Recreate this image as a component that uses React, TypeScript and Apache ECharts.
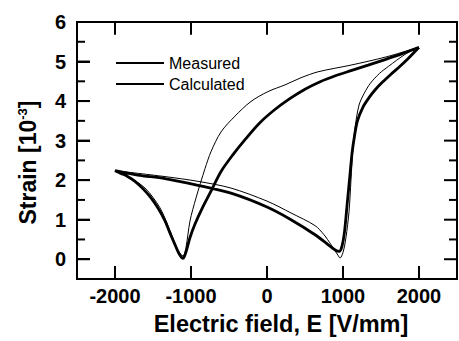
import React, { useEffect, useRef } from "react";
import * as echarts from "echarts";

// Measured loop (E in V/mm, strain in 10^-3)
const measuredE = [2000, 1780, 1553, 1330, 1105, 900, 700, 500, 300, 100, -100, -300, -450, -605, -737, -850, -950, -1013, -1060, -1090, -1105,
  -1160, -1211, -1280, -1342, -1430, -1526, -1630, -1737, -1840, -1921, -2000,
  -1700, -1342, -908, -474, 0, 316, 632, 803, 908, 950, 985, 1020, 1055, 1090, 1120, 1150, 1190, 1263, 1340, 1421, 1520, 1632, 1750, 1855, 2000];
const measuredS = [5.36, 5.2, 5.05, 4.91, 4.77, 4.64, 4.49, 4.3, 4.06, 3.78, 3.44, 3.0, 2.64, 2.22, 1.72, 1.3, 0.88, 0.55, 0.22, 0.06, 0.02,
  0.15, 0.37, 0.68, 0.97, 1.28, 1.55, 1.78, 1.97, 2.1, 2.17, 2.24,
  2.13, 2.04, 1.87, 1.67, 1.32, 1.0, 0.62, 0.37, 0.22, 0.2, 0.32, 0.7, 1.4, 2.1, 2.7, 3.1, 3.5, 3.85, 4.08, 4.28, 4.48, 4.68, 4.88, 5.07, 5.36];

// Calculated loop
const calculatedE = [2000, 1553, 1105, 671, 447, 237, 13, -211, -421, -605, -737, -816, -934, -1013, -1066, -1105,
  -1171, -1276, -1408, -1605, -1829, -2000,
  -1342, -908, -474, 0, 316, 632, 750, 842, 934, 961, 1000, 1039, 1079, 1105, 1130, 1160, 1211, 1280, 1360, 1480, 1600, 1816, 2000];
const calculatedS = [5.36, 5.11, 4.91, 4.74, 4.59, 4.41, 4.24, 3.99, 3.62, 3.22, 2.72, 2.29, 1.55, 0.97, 0.3, 0.08,
  0.22, 0.72, 1.3, 1.8, 2.09, 2.24,
  2.09, 1.97, 1.8, 1.47, 1.17, 0.85, 0.62, 0.37, 0.1, 0.03, 0.17, 0.55, 1.2, 2.0, 2.8, 3.35, 3.9, 4.2, 4.45, 4.7, 4.88, 5.18, 5.36];

const xTicks = [-2000, -1000, 0, 1000, 2000];
const yMajorTicks = [0, 1, 2, 3, 4, 5, 6];
const yMinorTicks = [0.5, 1.5, 2.5, 3.5, 4.5, 5.5];

const X_MIN = -2500;
const X_MAX = 2500;
const Y_MIN = -0.5;
const Y_MAX = 6;

const FONT = "'Liberation Sans', Arial, sans-serif";

// layout (pixels)
const W = 459;
const H = 341;
const G = { left: 77, right: 2, top: 22, bottom: 58 };
const MAJOR_PX = 13;
const MINOR_PX = 8;

export default function App() {
  const ref = useRef<HTMLDivElement>(null);
  useEffect(() => {
    if (!ref.current) return;
    const chart = echarts.init(ref.current, undefined, { renderer: "svg" });
    const zip = (a: number[], b: number[]) => a.map((v, i) => [v, b[i]]);
    const fmt = (v: number) => String(v);

    // convert a pixel tick length into data units along each axis
    const xPerPx = (X_MAX - X_MIN) / (W - G.left - G.right);
    const yPerPx = (Y_MAX - Y_MIN) / (H - G.top - G.bottom);

    const tickSeries: any[] = [];
    const addTick = (pts: number[][]) =>
      tickSeries.push({
        type: "line",
        data: pts,
        symbol: "none",
        showSymbol: false,
        silent: true,
        clip: false,
        lineStyle: { color: "#000", width: 2 },
        z: 5,
      });
    xTicks.forEach((v) => {
      addTick([[v, Y_MIN], [v, Y_MIN + MAJOR_PX * yPerPx]]);
      addTick([[v, Y_MAX], [v, Y_MAX - MAJOR_PX * yPerPx]]);
    });
    const addY = (v: number, px: number) => {
      addTick([[X_MIN, v], [X_MIN + px * xPerPx, v]]);
      addTick([[X_MAX, v], [X_MAX - px * xPerPx, v]]);
    };
    yMajorTicks.forEach((v) => addY(v, MAJOR_PX));
    yMinorTicks.forEach((v) => addY(v, MINOR_PX));

    const tickStyle = { color: "#000", width: 2 };

    chart.setOption({
      animation: false,
      backgroundColor: "#fff",
      grid: { ...G, show: true, borderColor: "#000", borderWidth: 2, backgroundColor: "transparent" },
      legend: {
        left: 115,
        top: 55,
        padding: 0,
        orient: "vertical",
        itemWidth: 48,
        itemHeight: 14,
        itemGap: 5,
        itemStyle: { opacity: 0 },
        textStyle: { fontFamily: FONT, fontSize: 16, color: "#000" },
        data: ["Measured", "Calculated"],
      },
      xAxis: {
        type: "value",
        min: X_MIN,
        max: X_MAX,
        position: "bottom",
        splitLine: { show: false },
        axisLine: { show: true, onZero: false, lineStyle: tickStyle },
        axisTick: { show: true, inside: true, length: MAJOR_PX, customValues: xTicks, lineStyle: tickStyle },
        axisLabel: { customValues: xTicks, formatter: fmt, color: "#000", fontFamily: FONT, fontWeight: "bold", fontSize: 20, margin: 7 },
        name: "Electric field, E [V/mm]",
        nameLocation: "middle",
        nameGap: 33,
        nameTextStyle: { color: "#000", fontFamily: FONT, fontWeight: "bold", fontSize: 23.5, padding: [0, 0, 0, 28] },
      },
      yAxis: {
        type: "value",
        min: Y_MIN,
        max: Y_MAX,
        position: "left",
        splitLine: { show: false },
        axisLine: { show: true, onZero: false, lineStyle: tickStyle },
        axisTick: { show: true, inside: true, length: MAJOR_PX, customValues: yMajorTicks, lineStyle: tickStyle },
        axisLabel: { customValues: yMajorTicks, formatter: fmt, color: "#000", fontFamily: FONT, fontWeight: "bold", fontSize: 20, margin: 11 },
        name: "Strain [10{sup|-3}]",
        nameLocation: "middle",
        nameRotate: 90,
        nameGap: 38,
        nameTextStyle: {
          color: "#000", fontFamily: FONT, fontWeight: "bold", fontSize: 23, padding: [0, 24, 0, 0],
          rich: { sup: { fontFamily: FONT, fontWeight: "bold", fontSize: 13, color: "#000", verticalAlign: "top", padding: [0, 0, 10, 0] } },
        },
      },
      series: [
        {
          name: "Measured",
          type: "line",
          data: zip(measuredE, measuredS),
          symbol: "none",
          showSymbol: false,
          smooth: 0.3,
          clip: false,
          lineStyle: { color: "#000", width: 2.8 },
          itemStyle: { color: "#000" },
        },
        {
          name: "Calculated",
          type: "line",
          data: zip(calculatedE, calculatedS),
          symbol: "none",
          showSymbol: false,
          smooth: 0.3,
          clip: false,
          lineStyle: { color: "#000", width: 1 },
          itemStyle: { color: "#000" },
        },
        ...tickSeries,
      ],
    });

    return () => chart.dispose();
  }, []);
  return <div ref={ref} style={{ width: W, height: H, position: "absolute", left: 0, top: 0 }} />;
}
